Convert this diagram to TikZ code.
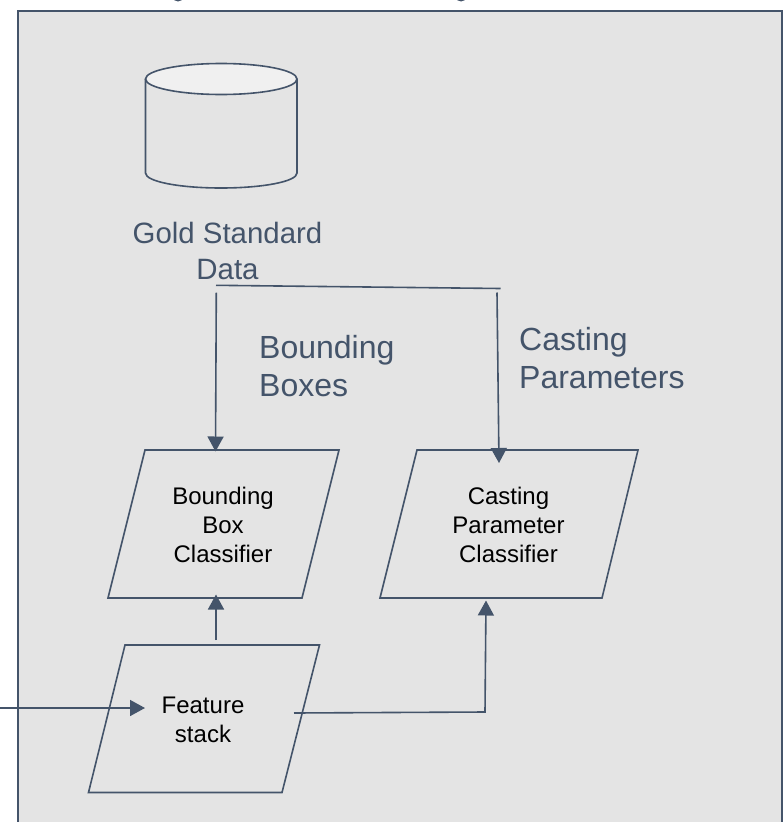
\documentclass[tikz,border=0pt]{standalone}
\usepackage{fontspec}
\setmainfont{Liberation Sans}
\usetikzlibrary{arrows.meta}
\definecolor{ink}{HTML}{44546A}
\definecolor{panel}{HTML}{E4E4E4}
\definecolor{lid}{HTML}{F0F0F0}
\tikzset{
  px/.style={x=1pt,y=-1pt},
  outline/.style={draw=ink,line width=1.6pt,line join=miter},
  link/.style={draw=ink,line width=1.6pt},
  arrowlink/.style={link,-{Triangle[length=15pt,width=16pt,fill=ink]}},
  boxtext/.style={inner sep=0pt,align=center,text=black,font=\fontsize{24}{29}\selectfont},
  bigtext/.style={inner sep=0pt,align=center,text=ink,font=\fontsize{29.4}{36}\selectfont},
  sidetext/.style={inner sep=0pt,align=left,anchor=west,text=ink,font=\fontsize{32}{38}\selectfont}
}
\begin{document}
\begin{tikzpicture}[px]
\useasboundingbox (0,0) rectangle (784,822);
\clip (0,0) rectangle (784,822);
% clipped remnants of a title above the frame
\fill[ink] (178,-3) ellipse (5.5pt and 4.5pt);
\fill[ink] (461,-3) ellipse (5.5pt and 4.5pt);
% panel
\draw[outline,fill=panel] (18,11) rectangle (782,840);
% cylinder
\draw[outline] (145.5,79) -- (145.5,173) .. controls (145.5,181.5) and (179,188) .. (221,188) .. controls (263,188) and (297,181.5) .. (297,173) -- (297,79);
\draw[outline,fill=lid] (221.25,79) ellipse (75.75pt and 15.5pt);
\node[bigtext] (gold) at (227.5,250.5) {Gold Standard\\Data};
% parallelograms
\draw[outline] (145,450) -- (339,450) -- (302,598) -- (108,598) -- cycle;
\draw[outline] (417,450) -- (638,450) -- (602,598) -- (380,598) -- cycle;
\draw[outline] (125,645) -- (319.5,645) -- (282,792.5) -- (88.5,792.5) -- cycle;
\node[boxtext] (bbc) at (223,525) {Bounding\\Box\\Classifier};
\node[boxtext] (cpc) at (508.5,525) {Casting\\Parameter\\Classifier};
\node[boxtext] (fs) at (203,719.5) {Feature\\stack};
\node[sidetext] (bbl) at (259,366.5) {Bounding\\Boxes};
\node[sidetext] (cpl) at (519,358) {Casting\\Parameters};
% connector ends
\coordinate (inA) at (0,708);
\coordinate (inB) at (145,708);
\coordinate (upA) at (216,640);
\coordinate (upB) at (216,594.5);
\coordinate (rtA) at (294,713);
\coordinate (rtC) at (485,712);
\coordinate (rtB) at (486,600.5);
\coordinate (hA) at (216,285.3);
\coordinate (hB) at (500.5,288.5);
\coordinate (lA) at (216.3,292.5);
\coordinate (lB) at (215.5,451.5);
\coordinate (rA) at (497,292.5);
\coordinate (rB) at (499,463);
\draw[arrowlink] (inA) -- (inB);
\draw[arrowlink] (upA) -- (upB);
\draw[arrowlink] (rtA) -- (rtC) -- (rtB);
\draw[link] (hA) -- (hB);
\draw[arrowlink] (lA) -- (lB);
\draw[arrowlink] (rA) -- (rB);
\end{tikzpicture}
\end{document}
